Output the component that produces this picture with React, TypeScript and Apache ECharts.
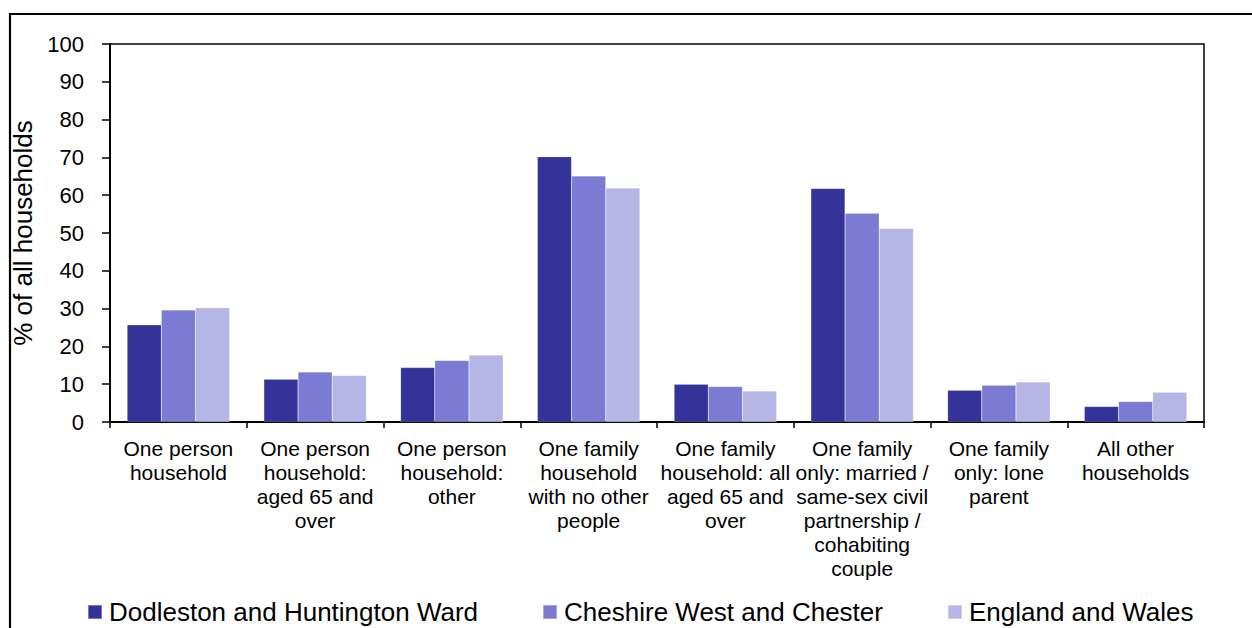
import React, { useEffect, useRef } from "react";
import * as echarts from "echarts";

const categories = [
  "One person\nhousehold",
  "One person\nhousehold:\naged 65 and\nover",
  "One person\nhousehold:\nother",
  "One family\nhousehold\nwith no other\npeople",
  "One family\nhousehold: all\naged 65 and\nover",
  "One family\nonly: married /\nsame-sex civil\npartnership /\ncohabiting\ncouple",
  "One family\nonly: lone\nparent",
  "All other\nhouseholds",
];

const seriesNames = [
  "Dodleston and Huntington Ward",
  "Cheshire West and Chester",
  "England and Wales",
];

const wardValues = [25.7, 11.3, 14.4, 70.2, 10.0, 61.8, 8.4, 4.1];
const cheshireValues = [29.6, 13.2, 16.3, 65.1, 9.4, 55.2, 9.7, 5.4];
const englandValues = [30.2, 12.3, 17.7, 61.9, 8.2, 51.2, 10.6, 7.9];

const colors = ["#333399", "#7b7bd3", "#b5b5e6"];
const yTicks = [0, 10, 20, 30, 40, 50, 60, 70, 80, 90, 100];

const FONT = "'Liberation Sans', Arial, sans-serif";

export default function App() {
  const ref = useRef<HTMLDivElement>(null);

  useEffect(() => {
    if (!ref.current) return;
    const chart = echarts.init(ref.current, undefined, { renderer: "svg" });
    const values = [wardValues, cheshireValues, englandValues];
    chart.setOption({
      animation: false,
      backgroundColor: "#ffffff",
      textStyle: { fontFamily: FONT },
      graphic: [
        {
          type: "rect",
          shape: { x: 10, y: 14, width: 1300, height: 700 },
          style: { fill: "none", stroke: "#000000", lineWidth: 2.2 },
          silent: true,
        },
      ],
      legend: {
        left: 87,
        top: 598,
        padding: 0,
        itemGap: 64,
        itemWidth: 14,
        itemHeight: 14,
        icon: "rect",
        data: seriesNames,
        textStyle: { fontFamily: FONT, fontSize: 26, lineHeight: 28, color: "#000000", padding: [0, 0, 0, 2] },
      },
      grid: {
        left: 110,
        right: 48,
        top: 44,
        bottom: 206,
        show: true,
        borderColor: "#000000",
        borderWidth: 1.5,
        containLabel: false,
      },
      xAxis: {
        type: "category",
        data: categories,
        axisLine: { show: true, lineStyle: { color: "#000000", width: 2 } },
        axisTick: { show: true, length: 6, lineStyle: { color: "#000000", width: 1.5 } },
        axisLabel: {
          interval: 0,
          margin: 14,
          fontFamily: FONT,
          fontSize: 21,
          lineHeight: 24,
          color: "#000000",
          align: "center",
        },
      },
      yAxis: {
        type: "value",
        min: yTicks[0],
        max: yTicks[yTicks.length - 1],
        interval: 10,
        name: "% of all households",
        nameLocation: "middle",
        nameGap: 72,
        nameRotate: 90,
        nameTextStyle: { fontFamily: FONT, fontSize: 26, color: "#000000" },
        axisLine: { show: true, lineStyle: { color: "#000000", width: 2 } },
        axisTick: { show: true, length: 8, lineStyle: { color: "#000000", width: 1.5 } },
        axisLabel: { margin: 26, fontFamily: FONT, fontSize: 22, color: "#000000" },
        splitLine: { show: false },
      },
      series: seriesNames.map((name, i) => ({
        name,
        type: "bar",
        data: values[i],
        barGap: "0%",
        barCategoryGap: "25%",
        itemStyle: { color: colors[i], borderColor: "rgba(255,255,255,0.35)", borderWidth: 0.5 },
      })),
    });
    return () => chart.dispose();
  }, []);

  return (
    <div
      ref={ref}
      style={{ position: "fixed", left: 0, top: 0, width: 1252, height: 628, background: "#fff" }}
    />
  );
}
